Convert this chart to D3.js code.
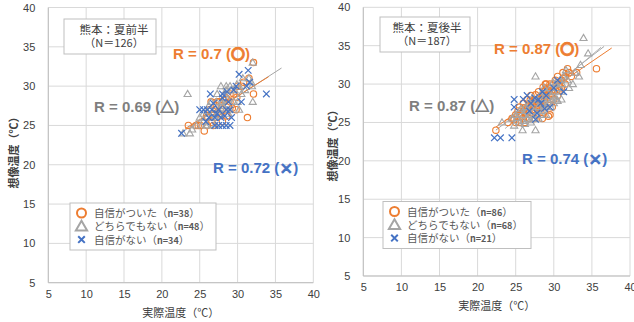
<!DOCTYPE html>
<html>
<head>
<meta charset="utf-8">
<script src="https://cdn.jsdelivr.net/npm/d3@7"></script>
<style>
  body { margin: 0; background: #fff; }
  text { font-family: "Noto Sans CJK JP", "Noto Sans", sans-serif; }
</style>
</head>
<body>
<div id="canvas"></div>
<script>
const w = 634;
const h = 322;

// 熊本：夏前半 [実際温度, 想像温度]
const earlyConfident = [[23.5,25],[25.6,24.3],[25.1,25],[24.8,25],[26,26],[26.5,28],[27,27],[27.3,28],[27.5,26.5],[26.8,25],[28,27],[28.5,28.5],[29,28],[29.5,29],[29.8,27],[30,30],[30.5,30],[31.3,26],[32.1,29],[32.1,33],[28,25.5],[27,26],[26,25],[29,29],[28.8,27.5],[28.2,28.2],[27.8,26.8],[26.3,27],[30.8,30.5],[31.5,31],[29.3,27.2],[27.6,28],[28.6,26.2],[25.9,26.2],[26.6,25.4],[29.9,28.6],[24.5,25],[27.2,27.5]];
const earlyNeutral = [[23.4,29],[22.8,24],[23.7,24],[32,33],[32,28],[31.8,30.5],[31.5,31],[31.9,30],[29,30],[28.5,29.5],[29,27],[30,28],[26,25],[26.5,26],[27,26],[25.5,26.5],[27.5,27],[28,28],[28.3,29],[29.2,29.5],[30.2,27],[26.2,27.5],[25.8,25],[27.8,30],[28.5,30],[29.5,28],[30.5,29],[27,25],[26.8,26.5],[27.2,28],[28.1,27.5],[28.7,28.3],[29.6,29.5],[26.5,28],[25.5,25.5],[27.6,26.3],[30.2,30],[31,29.5],[24.5,25],[26,26.8],[27.3,29],[28.8,26.5],[29.9,30.2],[30.7,31],[24,24.5],[25,26],[27.9,27.8],[28.4,27]];
const earlyNot = [[22.6,24],[33.8,29],[30.2,31.5],[31.4,32],[26.4,29],[25,27],[25.5,27],[26,27],[26.6,27],[27,26],[27.5,27],[28,28.5],[28.5,27],[29,27],[27,25],[27.5,25],[28,25],[28.5,25],[29,25],[26.2,26],[25.8,25.5],[28.8,28],[29.5,29.5],[30.5,28],[31.2,30],[28,29],[27.8,26],[26.8,27.8],[29.8,30],[27.3,26.5],[28.3,26.2],[31.6,30.5],[29.2,26],[28.6,29.3]];

// 熊本：夏後半
const lateConfident = [[22.4,24],[24,25],[24.5,25.5],[25,25],[25,26],[25.3,26.5],[25.5,25],[25.5,27],[25.8,26],[26,25.5],[26,26.5],[26,27.5],[26.2,25],[26.3,26],[26.5,27],[26.5,28],[26.7,26.5],[26.8,25.5],[27,26],[27,27],[27,28.5],[27.2,27.5],[27.3,26.5],[27.5,25.5],[27.5,27],[27.5,28],[27.7,26],[27.8,27.5],[28,27],[28,28],[28,29],[28.2,26.5],[28.3,27.8],[28.5,28.5],[28.5,27],[28.5,25.5],[28.7,29],[28.8,28],[29,27],[29,28.5],[29,30],[29.2,27.5],[29.3,29.5],[29.5,28],[29.5,30],[29.5,26],[29.7,29],[29.8,27],[30,29],[30,30],[30,28],[30.2,30.5],[30.4,29.5],[30.5,28.5],[30.5,31],[30.7,30],[31,30.5],[31,29.5],[31.2,31.5],[31.5,30],[31.5,31],[31.8,32],[32,31.5],[32.3,31],[26.4,26.2],[27.9,26.8],[28.9,29.2],[26.9,27.9],[29.6,28.6],[30.3,29.8],[25.6,25.8],[27.4,27.6],[28.1,26.9],[28.6,29.6],[29.1,28.9],[30.8,29.2],[26.1,26.9],[24.8,25.4],[27.6,28.6],[28.4,28.1],[29.4,29.1],[31.3,30.8],[33,31.5],[35.6,32],[28.9,30],[29.3,25.8]];
const lateNeutral = [[23.2,25],[25.9,24],[27.6,24],[27.6,31],[33.9,36],[34.5,34],[33.5,32.5],[33.3,31],[32.5,30],[32.8,31.5],[31.8,30.5],[32,29.5],[31,28],[24.5,25.5],[25,26],[25.5,25],[25.5,26.5],[26,26],[26,25.2],[26.3,27],[26.5,25.5],[26.5,26.5],[26.8,27.5],[27,25],[27,26],[27,27],[27.3,26.5],[27.5,25.5],[27.5,27.5],[27.8,26],[27.8,28],[28,27],[28,25.5],[28.2,28.5],[28.4,26.5],[28.5,27.5],[28.6,28.2],[28.8,27],[29,26],[29,29],[29.2,28],[29.4,27.5],[29.5,29.5],[29.7,28.5],[30,27.5],[30,29],[30.2,30],[30.4,28],[30.6,29.5],[30.8,30.5],[31,29],[31.3,31],[26.2,24.8],[24.8,24.6],[25.2,25.6],[26.7,26],[27.2,28.2],[28.3,26],[29.1,27.2],[29.9,30.2],[30.5,27.8],[31.6,31.8],[25.7,26.8],[26.9,25.3],[28.7,29.5],[29.6,27],[30.1,28.3],[31.1,30]];
const lateNot = [[22.2,23],[23,23],[24.5,23],[24.8,28],[24.8,27],[31.3,29],[27.6,25.4],[26,28],[26.5,28.5],[27,27.5],[27.5,28.2],[28,28],[28.3,27.5],[28.5,29],[27.8,26.2],[29,28.5],[29.5,27],[30,29.5],[30.5,30.5],[26.8,26.5],[28.8,26.8]];

// trend lines (endpoints)
const earlyTrendNeutral = [[22.4,24.0],[35.8,32.3]];
const earlyTrendConfident = [[23.1,24.6],[34.1,31.2]];
const lateTrendNeutral = [[22.4,24.0],[36.6,34.9]];
const lateTrendNot = [[23.6,24.2],[36.2,34.8]];
const lateTrendConfident = [[22.4,24.4],[37.6,34.7]];

const ticks = [5,10,15,20,25,30,35,40];
const legendNames = ["自信がついた", "どちらでもない", "自信がない"];
const earlyCounts = ["n=38", "n=48", "n=34"];
const lateCounts = ["n=86", "n=68", "n=21"];
const earlyR = [["R = 0.7 (", "〇", ")"], ["R = 0.69 (", "△", ")"], ["R = 0.72 (", "×", ")"]];
const lateR = [["R = 0.87 (", "〇", ")"], ["R = 0.87 (", "△", ")"], ["R = 0.74 (", "×", ")"]];

const orange = "#ED7D31", gray = "#A5A5A5", blue = "#4472C4";

const svg = d3.select("#canvas").append("svg").attr("width", w).attr("height", h);

function drawPanel(cfg){
  const x = d3.scaleLinear().domain([5,40]).range([cfg.left, cfg.right]);
  const y = d3.scaleLinear().domain([5,40]).range([cfg.bottom, cfg.top]);
  const g = svg.append("g");

  // grid
  g.selectAll(".gx").data(ticks).enter().append("line")
    .attr("x1", d => x(d)).attr("x2", d => x(d))
    .attr("y1", cfg.top).attr("y2", cfg.bottom)
    .attr("stroke", "#D9D9D9").attr("stroke-width", 1);
  g.selectAll(".gy").data(ticks).enter().append("line")
    .attr("y1", d => y(d)).attr("y2", d => y(d))
    .attr("x1", cfg.left).attr("x2", cfg.right)
    .attr("stroke", "#D9D9D9").attr("stroke-width", 1);
  g.append("line").attr("x1", cfg.left).attr("x2", cfg.left)
    .attr("y1", cfg.top).attr("y2", cfg.bottom).attr("stroke", "#BFBFBF");
  g.append("line").attr("x1", cfg.left).attr("x2", cfg.right)
    .attr("y1", cfg.bottom).attr("y2", cfg.bottom).attr("stroke", "#BFBFBF");

  // axes (labels only)
  const ax = g.append("g").attr("transform", `translate(0,${cfg.bottom + 7})`)
    .call(d3.axisBottom(x).tickValues(ticks).tickSize(0).tickPadding(0));
  const ay = g.append("g").attr("transform", `translate(${cfg.left - 13},0)`)
    .call(d3.axisLeft(y).tickValues(ticks).tickSize(0).tickPadding(0));
  [ax, ay].forEach(a => {
    a.select(".domain").remove();
    a.selectAll("text").attr("fill", "#404040").style("font-size", "11px")
      .style("font-family", "'Liberation Sans', Arial, sans-serif");
  });

  g.append("text").attr("x", (cfg.left + cfg.right) / 2).attr("y", cfg.xTitleY)
    .attr("text-anchor", "middle").attr("fill", "#404040").style("font-size", "11px")
    .text("実際温度（℃）");
  g.append("text").attr("transform", `translate(${cfg.yTitleX},${cfg.yTitleY}) rotate(-90)`)
    .attr("text-anchor", "middle").attr("fill", "#404040").style("font-size", "11px")
    .style("font-weight", "bold").text("想像温度（℃）");

  // trend lines
  const line = d3.line().x(d => x(d[0])).y(d => y(d[1]));
  cfg.trends.forEach(t => {
    g.append("path").attr("d", line(t.pts)).attr("fill", "none")
      .attr("stroke", t.color).attr("stroke-width", 1);
  });

  // points
  g.selectAll(".c").data(cfg.confident).enter().append("circle")
    .attr("cx", d => x(d[0])).attr("cy", d => y(d[1])).attr("r", 3.2)
    .attr("fill", "none").attr("stroke", orange).attr("stroke-width", 1.1);
  const tri = d3.symbol().type(d3.symbolTriangle).size(22);
  g.selectAll(".t").data(cfg.neutral).enter().append("path")
    .attr("d", tri).attr("transform", d => `translate(${x(d[0])},${y(d[1]) + 0.5})`)
    .attr("fill", "none").attr("stroke", gray).attr("stroke-width", 1.1);
  const cross = d3.symbol().type(d3.symbolX).size(30);
  g.selectAll(".x").data(cfg.not).enter().append("path")
    .attr("d", cross).attr("transform", d => `translate(${x(d[0])},${y(d[1])})`)
    .attr("fill", "none").attr("stroke", blue).attr("stroke-width", 1.2);

  // title box
  const b = cfg.box;
  g.append("rect").attr("x", b[0]).attr("y", b[1])
    .attr("width", b[2]).attr("height", b[3])
    .attr("fill", "#fff").attr("stroke", "#BFBFBF");
  g.append("text").attr("x", cfg.titleX).attr("y", b[1] + 15)
    .attr("text-anchor", "middle").attr("fill", "#404040").style("font-size", "11.5px")
    .text(cfg.title);
  g.append("text").attr("x", cfg.titleX).attr("y", b[1] + 28)
    .attr("text-anchor", "middle").attr("fill", "#404040").style("font-size", "11px")
    .text(cfg.n);

  // R labels
  const rColors = [orange, "#7F7F7F", blue];
  cfg.rPos.forEach((p, i) => {
    const t = g.append("text").attr("x", p[0]).attr("y", p[1])
      .attr("fill", rColors[i]).style("font-size", "15px").style("font-weight", "bold")
      .style("font-family", "'Liberation Sans', Arial, sans-serif");
    t.append("tspan").text(cfg.r[i][0]);
    t.append("tspan").style("font-family", "'Noto Sans CJK JP', sans-serif").style("font-size", "14px")
      .attr("stroke", rColors[i]).attr("stroke-width", 0.9)
      .text(cfg.r[i][1]);
    t.append("tspan").text(cfg.r[i][2]);
  });

  // legend
  const lg = cfg.legend;
  g.append("rect").attr("x", lg[0]).attr("y", lg[1]).attr("width", lg[2]).attr("height", lg[3])
    .attr("fill", "#fff").attr("stroke", "#BFBFBF");
  const rowY = i => lg[1] + 10 + i * 13.3;
  g.append("circle").attr("cx", lg[0] + 11.5).attr("cy", rowY(0)).attr("r", 4.5)
    .attr("fill", "none").attr("stroke", orange).attr("stroke-width", 2);
  g.append("path").attr("d", d3.symbol().type(d3.symbolTriangle).size(55))
    .attr("transform", `translate(${lg[0] + 11.5},${rowY(1) + 1})`)
    .attr("fill", "none").attr("stroke", gray).attr("stroke-width", 2);
  g.append("path").attr("d", d3.symbol().type(d3.symbolX).size(30))
    .attr("transform", `translate(${lg[0] + 11.5},${rowY(2)})`)
    .attr("fill", "none").attr("stroke", blue).attr("stroke-width", 2);
  legendNames.forEach((nm, i) => {
    const t = g.append("text").attr("x", lg[0] + 24).attr("y", rowY(i) + 4)
      .attr("fill", "#595959").style("font-size", "10.5px");
    t.append("tspan").text(nm + "（");
    t.append("tspan").style("font-size", "9px").style("font-weight", "bold").text(cfg.counts[i]);
    t.append("tspan").text("）");
  });
}

drawPanel({
  left: 48.3, right: 313.3, top: 7.5, bottom: 282.7,
  xTitleY: 317, yTitleX: 18, yTitleY: 150,
  confident: earlyConfident, neutral: earlyNeutral, not: earlyNot,
  trends: [{pts: earlyTrendNeutral, color: gray}, {pts: earlyTrendConfident, color: orange}],
  box: [64, 19, 92, 35], titleX: 114, title: "熊本：夏前半", n: "（N＝126）",
  r: earlyR, rPos: [[173, 59], [94, 112], [213, 173]],
  legend: [70, 203, 146, 47], counts: earlyCounts
});

drawPanel({
  left: 363.3, right: 630, top: 7.3, bottom: 276,
  xTitleY: 310, yTitleX: 337, yTitleY: 143,
  confident: lateConfident, neutral: lateNeutral, not: lateNot,
  trends: [{pts: lateTrendNeutral, color: gray}, {pts: lateTrendNot, color: "#B4B4B4"}, {pts: lateTrendConfident, color: orange}],
  box: [380, 17, 90, 35], titleX: 427, title: "熊本：夏後半", n: "（N＝187）",
  r: lateR, rPos: [[494, 54], [409, 111], [522, 164]],
  legend: [383, 201.5, 148, 47], counts: lateCounts
});
</script>
</body>
</html>
